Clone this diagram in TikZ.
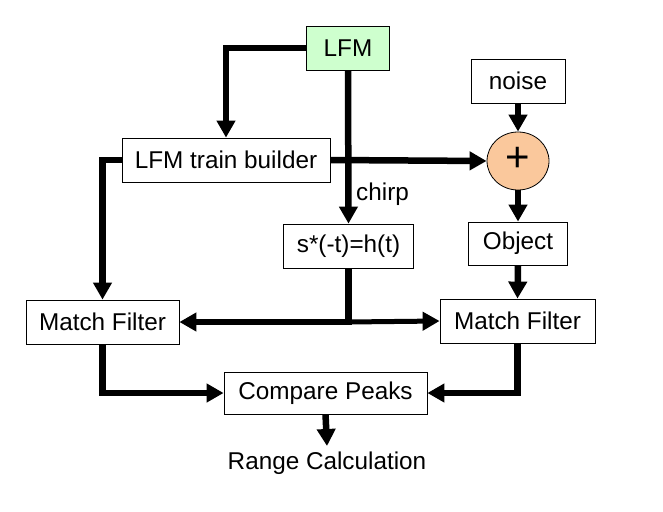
\documentclass[tikz,border=0pt]{standalone}
\usepackage{fontspec}
\setmainfont{Liberation Sans}
\usetikzlibrary{arrows.meta,shapes.geometric}
\definecolor{lfmgreen}{RGB}{206,255,206}
\definecolor{peach}{RGB}{250,200,156}
\begin{document}
\begin{tikzpicture}[x=1pt,y=-1pt,
  every node/.style={font=\fontsize{24.3}{29}\selectfont},
  blk/.style={draw=black,line width=0.8pt,inner sep=0pt,fill=white},
  flow/.style={line width=6.5pt,-{Triangle[length=17pt,width=18pt]}},
  plain/.style={line width=6.5pt}]
\useasboundingbox (0,0) rectangle (663,511);
\fill[white] (0,0) rectangle (663,511);
% nodes
\node[blk,fill=lfmgreen,minimum width=83pt,minimum height=44pt] (lfm) at (348,48) {LFM};
\node[blk,minimum width=94pt,minimum height=44pt] (noise) at (518,81) {noise};
\node[blk,minimum width=208pt,minimum height=44pt] (builder) at (226,160) {LFM train builder};
\node[draw=black,line width=0.8pt,fill=peach,ellipse,inner sep=0pt,minimum width=62pt,minimum height=58pt] (plus) at (518,161) {};
\node[font=\fontsize{42}{42}\selectfont,inner sep=0pt] (plussign) at (518,159) {+};
\node[blk,minimum width=130pt,minimum height=44pt] (smt) at (348.5,246) {s*(-t)=h(t)};
\node[blk,minimum width=99pt,minimum height=43pt] (obj) at (518,243.5) {Object};
\node[blk,minimum width=153pt,minimum height=44pt] (mfl) at (102.5,322) {Match Filter};
\node[blk,minimum width=155pt,minimum height=44pt] (mfr) at (517.5,321) {Match Filter};
\node[blk,minimum width=203pt,minimum height=42pt] (cp) at (325.5,393) {Compare Peaks};
\node[inner sep=0pt] (range) at (327,463) {Range Calculation};
\node[inner sep=0pt,anchor=west] (chirp) at (356,194) {chirp};
\coordinate (rtip) at (327,446);
% connectors
\draw[flow] (lfm.west) -| (builder.north);
\draw[flow] (lfm.south) -- (smt.north);
\draw[flow] (builder.east) -- (plus.west);
\draw[flow] (noise.south) -- (plus.north);
\draw[flow] (plus.south) -- (obj.north);
\draw[flow] (builder.west) -| (mfl.north);
\coordinate (j) at (smt.south |- mfl.east);
\draw[plain] (smt.south) -- ([yshift=3.25pt]j);
\draw[flow] ([xshift=3.25pt]j) -- (mfl.east);
\draw[line width=5pt,-{Triangle[length=17pt,width=18pt]}] (j) -- (mfr.west);
\draw[flow] (obj.south) -- (mfr.north);
\draw[flow] (mfl.south) |- (cp.west);
\draw[flow] (mfr.south) |- (cp.east);
\draw[flow] (cp.south) -- (rtip);
\end{tikzpicture}
\end{document}
